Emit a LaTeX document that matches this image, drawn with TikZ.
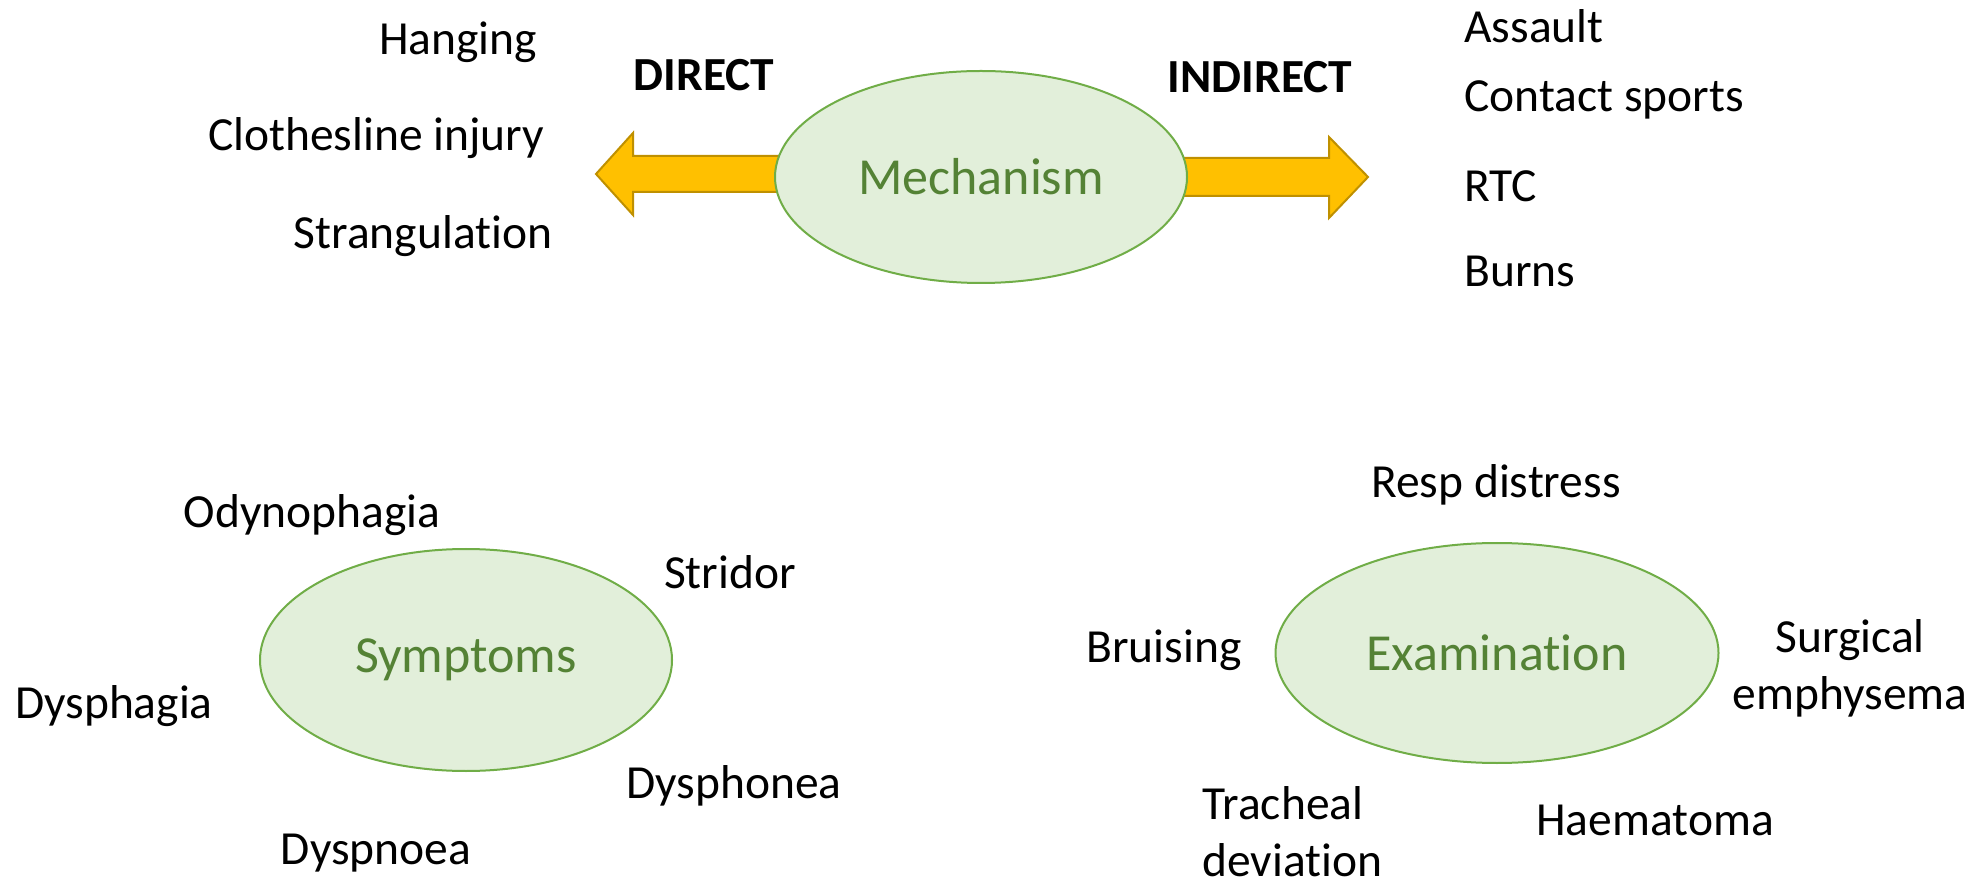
\documentclass[tikz,border=0pt]{standalone}
\usepackage{fontspec}
\setmainfont[Ligatures={NoCommon}]{Carlito}
\usetikzlibrary{shapes.geometric}
\definecolor{ellfill}{HTML}{E2EFDA}
\definecolor{elldraw}{HTML}{70AD47}
\definecolor{elltext}{HTML}{548235}
\definecolor{arrfill}{HTML}{FFC000}
\definecolor{arrdraw}{HTML}{BF9000}
\tikzset{
  hub/.style={ellipse, draw=elldraw, fill=ellfill, line width=1pt, text=elltext,
    font=\fontsize{26}{31}\selectfont, inner sep=0pt, outer sep=0pt},
  lbl/.style={font=\fontsize{23.75}{28.5}\selectfont, inner sep=0pt, align=center},
  hdr/.style={font=\fontsize{23.75}{28.5}\selectfont\bfseries, inner sep=0pt},
  blockarrow/.style={fill=arrfill, draw=arrdraw, line width=1pt, line join=miter},
}
\begin{document}
\begin{tikzpicture}[x=0.5pt,y=-0.5pt]
\useasboundingbox (0,0) rectangle (1984,886);
% arrows
\draw[blockarrow] (800,156) -- (633,156) -- (633,133) -- (596,174) -- (633,215) -- (633,192) -- (800,192) -- cycle;
\draw[blockarrow] (1160,158) -- (1329,158) -- (1329,137) -- (1368,177) -- (1329,218) -- (1329,196) -- (1160,196) -- cycle;
% hubs
\node[hub, minimum width=206pt, minimum height=106pt] (mech) at (981,177) {Mechanism};
\node[hub, minimum width=206pt, minimum height=111pt] (symp) at (466,660) {Symptoms};
\node[hub, minimum width=221.5pt, minimum height=110pt] (exam) at (1497,653) {Examination};
% mechanism labels
\node[hdr] (direct) at (704,75) {DIRECT};
\node[hdr] (indirect) at (1260,77) {INDIRECT};
\node[lbl] (hang) at (458,42) {Hanging};
\node[lbl] (cloth) at (376,138) {Clothesline injury};
\node[lbl] (strang) at (423,236) {Strangulation};
\node[lbl, anchor=west] (assault) at (1464,26) {Assault};
\node[lbl, anchor=west] (contact) at (1464,100) {Contact sports};
\node[lbl, anchor=west] (rtc) at (1464,186) {RTC};
\node[lbl, anchor=west] (burns) at (1464,271) {Burns};
% symptoms labels
\node[lbl] (odyno) at (312,515) {Odynophagia};
\node[lbl] (stridor) at (730,572) {Stridor};
\node[lbl] (dysphag) at (114,706) {Dysphagia};
\node[lbl] (dysphon) at (734,786) {Dysphonea};
\node[lbl] (dyspn) at (376,853) {Dyspnoea};
% examination labels
\node[lbl] (resp) at (1496,485) {Resp distress};
\node[lbl] (bruis) at (1164,650) {Bruising};
\node[lbl] (surg) at (1850,668) {Surgical\\emphysema};
\node[lbl, align=left, anchor=west] (trach) at (1202,832) {Tracheal\\deviation};
\node[lbl] (haem) at (1655,820) {Haematoma};
\end{tikzpicture}
\end{document}
